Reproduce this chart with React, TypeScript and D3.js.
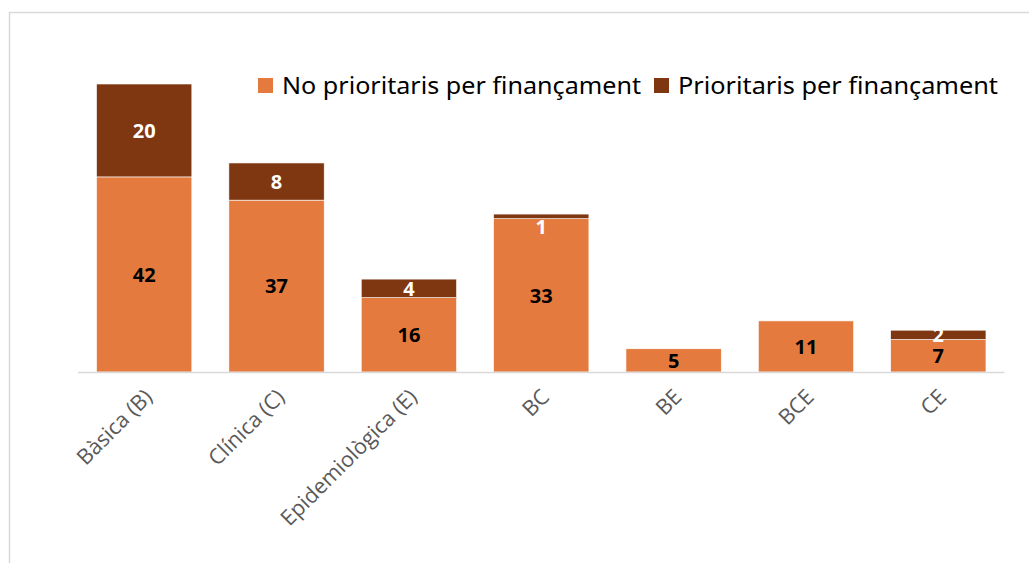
import React from "react";
import * as d3 from "d3";

const categories = ["Bàsica (B)", "Clínica (C)", "Epidemiològica (E)", "BC", "BE", "BCE", "CE"];
const noPrioritaris = [42, 37, 16, 33, 5, 11, 7];
const prioritaris = [20, 8, 4, 1, 0, 0, 2];
const seriesNames = ["No prioritaris per finançament", "Prioritaris per finançament"];
const colors = ["#E57A3E", "#7E3711"];
const labelColors = ["#000000", "#FFFFFF"];

const W = 1029;
const H = 563;

export default function App() {
  const x = d3.scaleBand<string>().domain(categories).range([78, 1004.5]).paddingInner(0.28).paddingOuter(0.14);
  const y = d3.scaleLinear().domain([0, 62]).range([372, 84]);
  const rows = categories.map((c, i) => ({ cat: c, a: noPrioritaris[i], b: prioritaris[i] }));
  const stack = d3.stack<any>().keys(["a", "b"])(rows as any);
  const font = "'Open Sans', 'Noto Sans', sans-serif";

  return (
    <svg width={W} height={H} style={{ position: "absolute", left: 0, top: 0 }}>
      <rect x={0} y={0} width={W} height={H} fill="#fff" />
      <rect x={9.5} y={12.5} width={W + 20} height={H + 20} fill="none" stroke="#d9d9d9" strokeWidth={1.5} />
      {stack.map((s, si) => (
        <g key={si}>
          {s.map((d, i) => {
            const v = (d.data as any)[si === 0 ? "a" : "b"];
            if (!v) return null;
            const y0 = y(d[0]);
            const y1 = y(d[1]);
            return (
              <rect key={i} x={x(categories[i])} y={y1} width={x.bandwidth()} height={y0 - y1} fill={colors[si]} stroke="#fff" strokeWidth={0.6} />
            );
          })}
        </g>
      ))}
      <line x1={78} x2={1004.5} y1={372.5} y2={372.5} stroke="#d9d9d9" strokeWidth={1.5} />
      {stack.map((s, si) => (
        <g key={"l" + si}>
          {s.map((d, i) => {
            const v = (d.data as any)[si === 0 ? "a" : "b"];
            if (!v) return null;
            const y0 = y(d[0]);
            const y1 = y(d[1]);
            const h = y0 - y1;
            const cy = h < 6 ? y1 + 13 : (y0 + y1) / 2;
            return (
              <text key={i} x={(x(categories[i]) as number) + x.bandwidth() / 2} y={cy} dy="0.36em" textAnchor="middle"
                fontFamily={font} fontWeight={700} fontSize={20} fill={labelColors[si]}>{v}</text>
            );
          })}
        </g>
      ))}
      {categories.map((c) => {
        const cx = (x(c) as number) + x.bandwidth() / 2 + 4;
        const ty = 393;
        return (
          <text key={c} transform={`translate(${cx},${ty}) rotate(-45)`} textAnchor="end" dy="0.35em"
            fontFamily={font} fontSize={21.5} fill="#595959">{c}</text>
        );
      })}
      <g>
        <rect x={258} y={78} width={15} height={15} fill={colors[0]} />
        <text x={282} y={94} fontFamily="'Noto Sans', sans-serif" fontSize={24} fill="#000" textLength={359} lengthAdjust="spacingAndGlyphs">{seriesNames[0]}</text>
        <rect x={654} y={78} width={15} height={15} fill={colors[1]} />
        <text x={678} y={94} fontFamily="'Noto Sans', sans-serif" fontSize={24} fill="#000" textLength={320} lengthAdjust="spacingAndGlyphs">{seriesNames[1]}</text>
      </g>
    </svg>
  );
}
